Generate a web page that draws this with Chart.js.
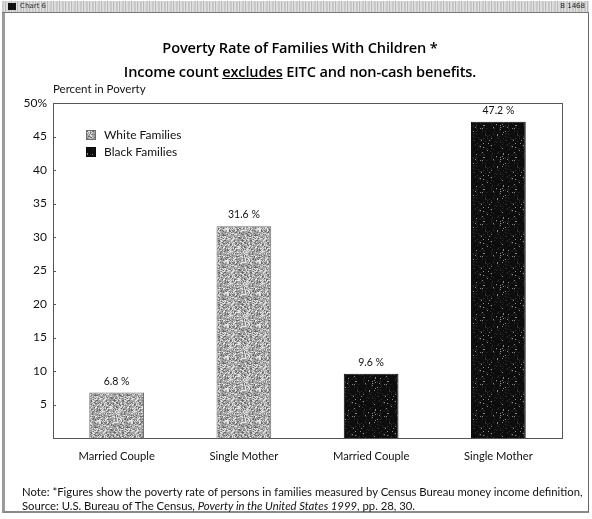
<!DOCTYPE html>
<html>
<head>
<meta charset="utf-8">
<script src="https://cdn.jsdelivr.net/npm/chart.js@4/dist/chart.umd.min.js"></script>
<style>
  html, body { margin: 0; padding: 0; background: #fff; }
  body { width: 592px; height: 519px; position: relative; overflow: hidden; }
  #chart { position: absolute; left: 0; top: 0; }
  .frame { position: absolute; left: 2px; top: 1px; width: 587px; height: 512px;
           border-left: 3px solid #9a9a9a; border-right: 1px solid #666; border-bottom: 2px solid #8a8a8a; box-sizing: border-box; }
  .header { position: absolute; left: 2px; top: 1px; width: 587px; height: 12px;
            background: repeating-linear-gradient(90deg, #c9c9c9 0 2px, #e3e3e3 2px 3px, #b8b8b8 3px 4px, #dcdcdc 4px 6px);
            border-bottom: 1px solid #777; box-sizing: border-box; }
  .header .icon { position: absolute; left: 6px; top: 2px; width: 8px; height: 7px; background: #111; }
  .header .left { position: absolute; left: 18px; top: 1px; font: 7px "DejaVu Sans", sans-serif; color: #333; }
  .header .right { position: absolute; right: 4px; top: 1px; font: 7px "DejaVu Sans", sans-serif; color: #222; }
  .title { position: absolute; left: 0; width: 600px; text-align: center;
           font-family: "Open Sans", sans-serif; font-weight: 600; font-size: 14.6px; color: #000; letter-spacing: -0.15px; }
  .ylabel { position: absolute; left: 53px; top: 82px; font: 11.5px Lato, sans-serif; color: #111; }
  .note { position: absolute; left: 22px; font: 11.3px Lato, sans-serif; color: #111; white-space: nowrap; }
</style>
</head>
<body>
<canvas id="chart" width="592" height="519"></canvas>
<div class="frame"></div>
<div class="header"><div class="icon"></div><div class="left">Chart 6</div><div class="right">B 1468</div></div>
<div class="title" style="top:37px">Poverty Rate of Families With Children *</div>
<div class="title" style="top:61px">Income count <u>excludes</u> EITC and non-cash benefits.</div>
<div class="ylabel">Percent in Poverty</div>
<div class="note" style="top:485px">Note: *Figures show the poverty rate of persons in families measured by Census Bureau money income definition,</div>
<div class="note" style="top:499px">Source: U.S. Bureau of The Census, <i>Poverty in the United States 1999</i>, pp. 28, 30.</div>
<script>
// Family types along the x axis
const categories = ['Married Couple', 'Single Mother', 'Married Couple', 'Single Mother'];
// Poverty rates (%) of families with children
const whiteFamilies = [6.8, 31.6, null, null];
const blackFamilies = [null, null, 9.6, 47.2];
const seriesNames = ['White Families', 'Black Families'];

// Stippled fills that imitate a printed halftone (deterministic hash per pixel)
function hash(x, y) {
  let h = (x * 374761393 + y * 668265263) | 0;
  h = (h ^ (h >>> 13)) * 1274126177 | 0;
  return ((h ^ (h >>> 16)) >>> 0) / 4294967296;
}
function stipple(base, light, dark, pLight, pDark, size) {
  const c = document.createElement('canvas');
  c.width = size; c.height = size;
  const g = c.getContext('2d');
  g.fillStyle = base; g.fillRect(0, 0, size, size);
  for (let y = 0; y < size; y++) {
    for (let x = 0; x < size; x++) {
      const r = hash(x, y);
      if (r < pLight) { g.fillStyle = light; g.fillRect(x, y, 1, 1); }
      else if (r > 1 - pDark) { g.fillStyle = dark; g.fillRect(x, y, 1, 1); }
    }
  }
  return g.createPattern(c, 'repeat');
}
const ctx0 = document.getElementById('chart').getContext('2d');
const greyFill = stipple('#a4a4a4', '#e2e2e2', '#6a6a6a', 0.26, 0.2, 32);
const blackFill = stipple('#0d0d0d', '#8a8a8a', '#2e2e2e', 0.025, 0.08, 32);

// Plot-area box with small inward ticks on the value axis
const frameBox = {
  id: 'frameBox',
  afterDraw(chart) {
    const { ctx, chartArea: a, scales } = chart;
    ctx.save();
    ctx.strokeStyle = '#555';
    ctx.lineWidth = 1;
    ctx.strokeRect(a.left + 0.5, a.top + 0.5, a.right - a.left, a.bottom - a.top);
    scales.y.ticks.forEach(t => {
      const y = Math.round(scales.y.getPixelForValue(t.value)) + 0.5;
      ctx.beginPath(); ctx.moveTo(a.left, y); ctx.lineTo(a.left + 3, y); ctx.stroke();
    });
    ctx.restore();
  }
};

// Value labels above each bar
const barValues = {
  id: 'barValues',
  afterDatasetsDraw(chart) {
    const { ctx } = chart;
    ctx.save();
    ctx.font = '10.5px Lato, sans-serif';
    ctx.fillStyle = '#111';
    ctx.textAlign = 'center';
    ctx.textBaseline = 'bottom';
    chart.data.datasets.forEach((ds, i) => {
      chart.getDatasetMeta(i).data.forEach((bar, j) => {
        const v = ds.data[j];
        if (v == null) return;
        ctx.fillText(v.toFixed(1) + ' %', bar.x, bar.y - 6);
      });
    });
    ctx.restore();
  }
};

// Legend placed inside the plot area
const innerLegend = {
  id: 'innerLegend',
  afterDatasetsDraw(chart) {
    const { ctx, chartArea: a } = chart;
    ctx.save();
    ctx.font = '12px Lato, sans-serif';
    ctx.textBaseline = 'middle';
    chart.data.datasets.forEach((ds, i) => {
      const x = a.left + 33, y = a.top + 27 + i * 17;
      ctx.fillStyle = ds.backgroundColor;
      ctx.fillRect(x, y, 10, 10);
      ctx.strokeStyle = ds.borderColor;
      ctx.strokeRect(x + 0.5, y + 0.5, 9, 9);
      ctx.fillStyle = '#111';
      ctx.fillText(ds.label, x + 18, y + 5);
    });
    ctx.restore();
  }
};

new Chart(ctx0, {
  type: 'bar',
  data: {
    labels: categories,
    datasets: [
      { label: seriesNames[0], data: whiteFamilies, backgroundColor: greyFill, borderColor: '#6e6e6e', borderWidth: 1, grouped: false },
      { label: seriesNames[1], data: blackFamilies, backgroundColor: blackFill, borderColor: '#0a0a0a', borderWidth: 1, grouped: false }
    ]
  },
  options: {
    responsive: false,
    animation: false,
    layout: { padding: { left: 0, right: 30, top: 103, bottom: 51 } },
    datasets: { bar: { categoryPercentage: 1, barPercentage: 0.43 } },
    plugins: { legend: { display: false }, tooltip: { enabled: false }, title: { display: false } },
    scales: {
      x: {
        grid: { display: false, drawTicks: false },
        border: { display: true, color: '#555' },
        ticks: { font: { family: 'Lato', size: 11.2 }, color: '#111', padding: 12 },
        afterFit(s) { s.height = 30; }
      },
      y: {
        min: 0, max: 50,
        grid: { display: false, drawTicks: false },
        border: { display: true, color: '#555' },
        ticks: {
          stepSize: 5,
          font: { family: 'Lato', size: 12 }, color: '#111', padding: 6,
          callback: v => v === 0 ? '' : (v === 50 ? '50%' : v)
        },
        afterFit(s) { s.width = 53; }
      }
    }
  },
  plugins: [frameBox, barValues, innerLegend]
});
</script>
</body>
</html>
